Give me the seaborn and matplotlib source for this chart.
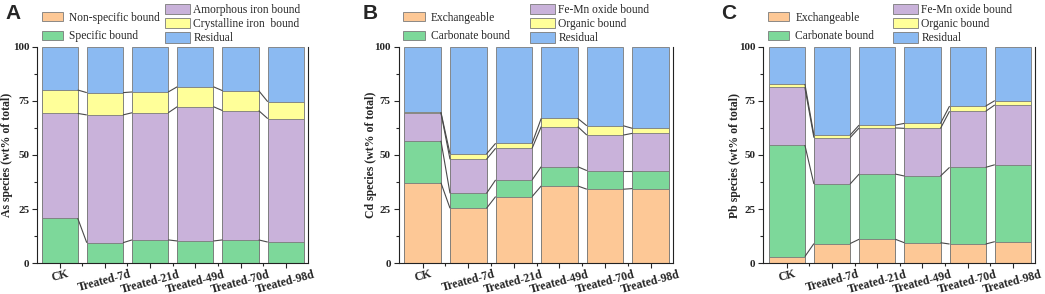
import numpy as np
import pandas as pd
import matplotlib
matplotlib.use("Agg")
import matplotlib.pyplot as plt
import seaborn as sns
from matplotlib.patches import Patch
from matplotlib.ticker import MultipleLocator, FixedLocator

sns.set_theme(style="ticks")
plt.rcParams['font.family'] = ['Liberation Serif', 'DejaVu Serif']

categories = ["CK", "Treated-7d", "Treated-21d", "Treated-49d", "Treated-70d", "Treated-98d"]

# Panel A: As fractions (wt% of total)
as_labels = ["Non-specific bound", "Specific bound", "Amorphous iron bound",
             "Crystalline iron  bound", "Residual"]
as_nonspecific = [0.0, 0.0, 0.0, 0.0, 0.0, 0.0]
as_specific = [20.8, 9.5, 10.8, 10.3, 10.8, 9.8]
as_amorphous = [48.4, 59.0, 58.7, 62.0, 59.7, 57.0]
as_crystalline = [10.8, 10.3, 9.6, 9.2, 9.2, 7.8]
as_residual = [20.0, 21.2, 20.9, 18.5, 20.3, 25.4]

# Panel B: Cd fractions
cd_labels = ["Exchangeable", "Carbonate bound", "Fe-Mn oxide bound", "Organic bound", "Residual"]
cd_exchangeable = [37.2, 25.4, 30.8, 35.7, 34.2, 34.5]
cd_carbonate = [19.4, 6.9, 7.7, 8.9, 8.6, 8.3]
cd_femn = [12.9, 15.7, 14.6, 18.5, 16.4, 17.2]
cd_organic = [0.3, 2.5, 2.3, 3.8, 4.3, 2.3]
cd_residual = [30.2, 49.5, 44.6, 33.1, 36.5, 37.7]

# Panel C: Pb fractions
pb_labels = ["Exchangeable", "Carbonate bound", "Fe-Mn oxide bound", "Organic bound", "Residual"]
pb_exchangeable = [3.1, 9.1, 11.1, 9.5, 8.9, 10.0]
pb_carbonate = [51.5, 27.5, 30.1, 30.8, 35.4, 35.5]
pb_femn = [26.6, 21.4, 21.3, 22.0, 25.9, 27.6]
pb_organic = [1.6, 1.2, 1.3, 2.3, 2.4, 2.0]
pb_residual = [17.2, 40.8, 36.2, 35.4, 27.4, 24.9]

colors = ["#FDC896", "#7DD89A", "#C9B2DA", "#FFFF99", "#8BBAF2"]
edge = "#7a7a7a"
linkc = "#4a4a4a"

fig = plt.figure(figsize=(10.45, 2.94), dpi=100)
W, H = 1045, 294

panels = [
    ("A", "As species (wt% of total)", as_labels,
     [as_nonspecific, as_specific, as_amorphous, as_crystalline, as_residual],
     37, 308, -0.5, 13, 5, 165),
    ("B", "Cd species (wt% of total)", cd_labels,
     [cd_exchangeable, cd_carbonate, cd_femn, cd_organic, cd_residual],
     398.5, 673, -0.53, 377, 363, 530),
    ("C", "Pb species (wt% of total)", pb_labels,
     [pb_exchangeable, pb_carbonate, pb_femn, pb_organic, pb_residual],
     763, 1035, -0.526, 741, 721, 893),
]

top_px, bot_px = 46.7, 263.3
bw = 0.8
lfs = 8.3
for letter, ylabel, labels, layers, lpx, rpx, xl, ylab_px, letter_px, col2_x in panels:
    ax = fig.add_axes([lpx / W, 1 - bot_px / H, (rpx - lpx) / W, (bot_px - top_px) / H])
    arr = np.array(layers)
    cum = np.cumsum(arr, axis=0)
    df = pd.DataFrame({"cat": categories})
    # draw from top layer down so lower layers cover upper ones
    for k in range(len(layers) - 1, -1, -1):
        df["v"] = cum[k]
        sns.barplot(data=df, x="cat", y="v", color=colors[k], saturation=1,
                    width=bw, edgecolor=edge, linewidth=0.6, ax=ax, zorder=2)
    # connecting lines between adjacent bars at each boundary
    for k in range(len(layers) - 1):
        if np.all(arr[k] == 0) and k == 0:
            continue
        for i in range(len(categories) - 1):
            ax.plot([i + bw / 2, i + 1 - bw / 2], [cum[k][i], cum[k][i + 1]],
                    color=linkc, lw=0.8, zorder=3, solid_capstyle="butt")
    ax.set_xlim(xl, len(categories) - 1 + 0.49)
    ax.set_ylim(0, 100)
    ax.set_xlabel("")
    ax.set_ylabel(ylabel, fontsize=8.5, fontweight="bold")
    ax.yaxis.set_label_coords((ylab_px - lpx) / (rpx - lpx), 0.5)
    ax.yaxis.set_major_locator(MultipleLocator(25))
    ax.yaxis.set_minor_locator(MultipleLocator(12.5))
    ax.xaxis.set_minor_locator(FixedLocator(np.arange(len(categories) - 1) + 0.5))
    ax.tick_params(which="major", direction="out", length=3.5, width=0.8)
    ax.tick_params(which="minor", direction="out", length=2.2, width=0.8)
    ax.tick_params(axis="y", labelsize=8, pad=2)
    ax.tick_params(axis="x", pad=0)
    ax.set_xticks(range(len(categories)))
    ax.set_xticklabels(categories, rotation=15, fontsize=8.5, fontweight="bold",
                       ha="center")
    for t in ax.get_yticklabels():
        t.set_fontweight("bold")
    for s in ["left", "bottom", "right"]:
        ax.spines[s].set_visible(True)
        ax.spines[s].set_color("#222222")
        ax.spines[s].set_linewidth(0.8)
    ax.spines["top"].set_visible(False)

    handles = [Patch(facecolor=colors[k], edgecolor=edge, linewidth=0.6, label=labels[k])
               for k in range(5)]
    l1 = ax.legend(handles=handles[:2], loc="upper left",
                   bbox_to_anchor=((lpx + 4.5) / W, 1 - 11.5 / H), bbox_transform=fig.transFigure,
                   frameon=False, fontsize=lfs, handlelength=1.9, handleheight=0.87,
                   handletextpad=0.52, labelspacing=0.6, borderpad=0, borderaxespad=0)
    ax.add_artist(l1)
    ax.legend(handles=handles[2:], loc="upper left",
              bbox_to_anchor=(col2_x / W, 1 - 3.5 / H), bbox_transform=fig.transFigure,
              frameon=False, fontsize=lfs, handlelength=2.2, handleheight=1.05,
              handletextpad=0.26, labelspacing=0.17, borderpad=0, borderaxespad=0)

    fig.text(letter_px / W, 1 - 4 / H, letter, fontsize=15, fontweight="bold",
             family=["Liberation Sans", "DejaVu Sans"], ha="left", va="top")

fig.savefig("out.png", dpi=100)
